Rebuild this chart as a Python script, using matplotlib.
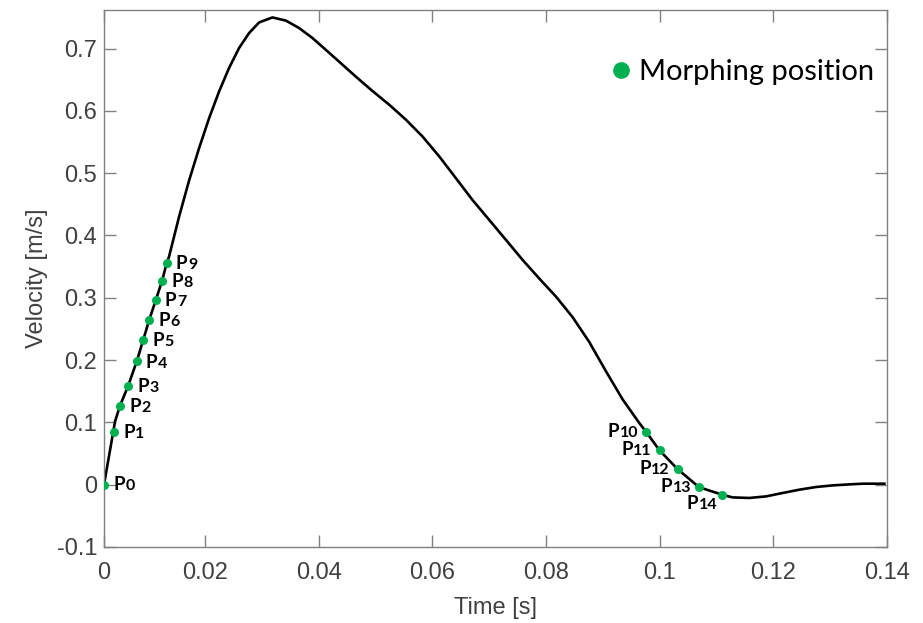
import matplotlib.pyplot as plt
from matplotlib.offsetbox import AnnotationBbox, HPacker, TextArea

# velocity curve (time in s, velocity in m/s)
time_s = [0.00222, 0.00416, 0.00504, 0.00644, 0.00798, 0.00914, 0.01019, 0.01132,
          0.01243, 0.01326, 0.01366, 0.01542, 0.01718, 0.01894, 0.0207, 0.02246,
          0.02423, 0.02599, 0.02775, 0.02951, 0.03185, 0.03421, 0.03655, 0.03889,
          0.04125, 0.04359, 0.04653, 0.04945, 0.05239, 0.05533, 0.05826, 0.0612,
          0.06414, 0.06706, 0.07, 0.07294, 0.07586, 0.0788, 0.08174, 0.08467,
          0.08761, 0.09055, 0.09347, 0.09641, 0.09759, 0.09998, 0.10315, 0.10692,
          0.11097, 0.11283, 0.11577, 0.11871, 0.12164, 0.12458, 0.12752, 0.13044,
          0.13338, 0.13572, 0.13954]
velocity = [0.0, 0.1016, 0.127, 0.158, 0.198, 0.233, 0.265, 0.296,
            0.327, 0.356, 0.366, 0.430, 0.488, 0.540, 0.588, 0.631,
            0.669, 0.701, 0.725, 0.742, 0.750, 0.745, 0.733, 0.717,
            0.698, 0.679, 0.655, 0.632, 0.610, 0.586, 0.559, 0.527,
            0.492, 0.457, 0.425, 0.393, 0.361, 0.331, 0.302, 0.269,
            0.229, 0.182, 0.137, 0.099, 0.085, 0.055, 0.025, -0.004,
            -0.016, -0.0204, -0.0213, -0.0188, -0.0133, -0.008, -0.0037, -0.0011,
            0.0005, 0.0016, 0.0016]

# morphing positions P0..P14
morph_t = [0.00222, 0.00398, 0.00504, 0.00644, 0.00798, 0.00914, 0.01019, 0.01132,
           0.01243, 0.01326, 0.09759, 0.09998, 0.10315, 0.10692, 0.11097]
morph_v = [0.0, 0.0846, 0.127, 0.158, 0.198, 0.233, 0.265, 0.296,
           0.327, 0.356, 0.085, 0.055, 0.025, -0.004, -0.016]

xtick_vals = [0.00222, 0.02, 0.04, 0.06, 0.08, 0.10, 0.12, 0.14]
xtick_labels = ['0', '0.02', '0.04', '0.06', '0.08', '0.1', '0.12', '0.14']
ytick_vals = [-0.1, 0, 0.1, 0.2, 0.3, 0.4, 0.5, 0.6, 0.7]
ytick_labels = ['-0.1', '0', '0.1', '0.2', '0.3', '0.4', '0.5', '0.6', '0.7']

plt.rcParams['font.family'] = ['Liberation Sans', 'DejaVu Sans']

green = '#00B050'
grey = '#808080'

fig = plt.figure(figsize=(9.23, 6.23), dpi=100)
ax = fig.add_axes([0.1127, 0.122, 0.8483, 0.862])

ax.plot(time_s, velocity, color='black', lw=1.9, zorder=2)
ax.plot(morph_t, morph_v, 'o', color=green, ms=6.5, mec='none', zorder=3,
        label='Morphing position')


def p_label(i, t, v, dx, dy, align):
    p = TextArea('P', textprops=dict(family='Lato', weight='bold', size=13.5))
    n = TextArea(str(i), textprops=dict(family='Lato', weight='bold', size=11.5))
    box = HPacker(children=[p, n], align='baseline', pad=0, sep=0.5)
    ab = AnnotationBbox(box, (t, v), xybox=(dx, dy), boxcoords='offset points',
                        box_alignment=align, frameon=False, pad=0)
    ax.add_artist(ab)


for i, (t, v) in enumerate(zip(morph_t, morph_v)):
    if i == 0:
        p_label(i, t, v, 7, 0, (0, 0.5))
    elif i < 10:
        p_label(i, t, v, 6.5, -0.5, (0, 0.5))
    elif i < 14:
        p_label(i, t, v, -5.5, 0.5, (1, 0.5))
    else:
        p_label(i, t, v, -3.5, -6.5, (1, 0.5))

ax.set_xlim(0.00222, 0.14)
ax.set_ylim(-0.1, 0.762)
ax.set_xticks(xtick_vals)
ax.set_xticklabels(xtick_labels)
ax.set_yticks(ytick_vals)
ax.set_yticklabels(ytick_labels)
ax.tick_params(direction='in', length=8.5, width=1, color=grey,
               top=True, right=True, labelsize=17, labelcolor='#404040')
ax.tick_params(axis='x', pad=11)
ax.tick_params(axis='y', pad=5)
for sp in ax.spines.values():
    sp.set_color(grey)
    sp.set_linewidth(1)

ax.set_xlabel('Time [s]', fontsize=17, color='#404040', labelpad=9)
ax.set_ylabel('Velocity [m/s]', fontsize=17, color='#404040', labelpad=6)

ax.legend(loc='center right', bbox_to_anchor=(0.983, 0.8845), frameon=False,
          borderpad=0, borderaxespad=0, handlelength=0.5, handletextpad=0.35,
          markerscale=1.85, prop={'family': 'Lato', 'size': 21})

fig.savefig('out.png', dpi=100)
